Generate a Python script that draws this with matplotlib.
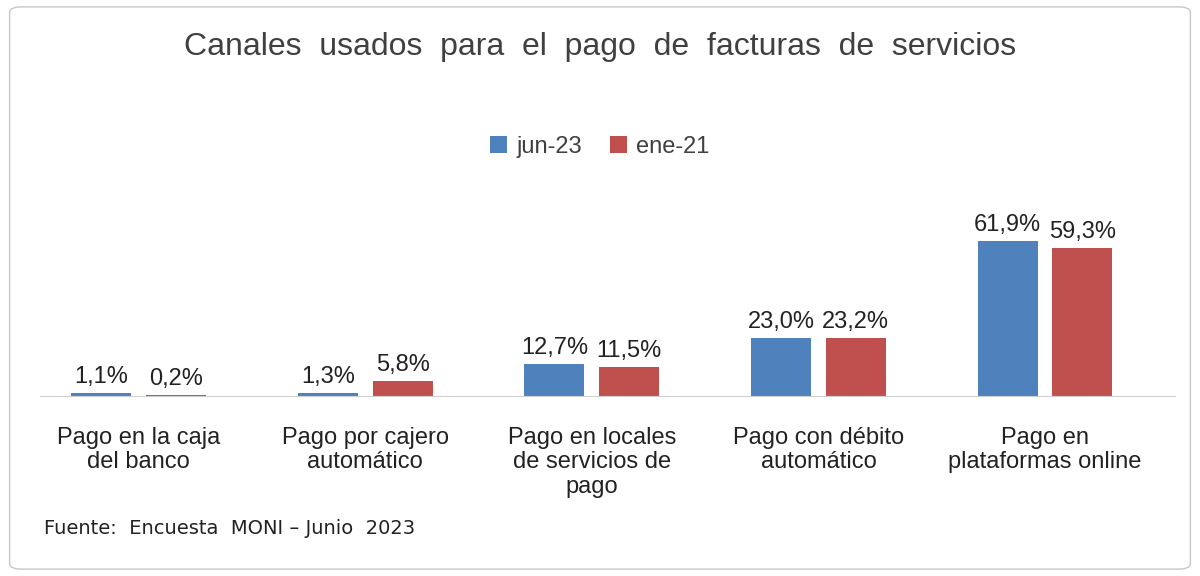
import numpy as np
from matplotlib import pyplot as plt
from matplotlib.patches import FancyBboxPatch

categories = ["Pago en la caja\ndel banco", "Pago por cajero\nautomático",
              "Pago en locales\nde servicios de\npago", "Pago con débito\nautomático",
              "Pago en\nplataformas online"]
jun23 = [1.1, 1.3, 12.7, 23.0, 61.9]
ene21 = [0.2, 5.8, 11.5, 23.2, 59.3]

plt.rcParams['font.family'] = ['Liberation Sans', 'DejaVu Sans']

fig = plt.figure(figsize=(12, 5.76), dpi=100)
fig.patches.append(FancyBboxPatch((0.008, 0.012), 0.984, 0.976, boxstyle="round,pad=0,rounding_size=0.01",
                                  transform=fig.transFigure, fill=False, edgecolor="#c8c8c8", lw=1))
ax = fig.add_axes([0.033, 0.3125, 0.946, 0.304])

x = np.arange(len(categories))
w = 0.265
b1 = ax.bar(x - 0.165, jun23, w, color="#4F81BD", label="jun-23")
b2 = ax.bar(x + 0.165, ene21, w, color="#C0504D", label="ene-21")
for bars, vals in ((b1, jun23), (b2, ene21)):
    for r, v in zip(bars, vals):
        ax.text(r.get_x() + r.get_width() / 2, v + 2, f"{v:.1f}%".replace(".", ","),
                ha="center", va="bottom", fontsize=17, color="#222222")

ax.set_xlim(-0.437, 4.573)
ax.set_ylim(0, 70)
ax.set_yticks([])
ax.set_xticks(x)
ax.set_xticklabels(categories, fontsize=17, color="#222222", va="top", linespacing=1.15)
ax.tick_params(axis="x", length=0, pad=22)
for s in ("top", "right", "left"):
    ax.spines[s].set_visible(False)
ax.spines["bottom"].set_color("#d0d0d0")

fig.text(0.5, 0.918, "Canales  usados  para  el  pago  de  facturas  de  servicios", ha="center", va="center",
         fontsize=23, color="#404040")
fig.legend(loc="center", bbox_to_anchor=(0.5, 0.745), ncol=2, frameon=False, fontsize=17,
           handlelength=0.7, handleheight=0.7, columnspacing=1.2, handletextpad=0.4, labelcolor="#404040")
fig.text(0.037, 0.082, "Fuente:  Encuesta  MONI \u2013 Junio  2023", family="DejaVu Sans", fontsize=14,
         color="#222222", va="center")

plt.savefig("out.png")
